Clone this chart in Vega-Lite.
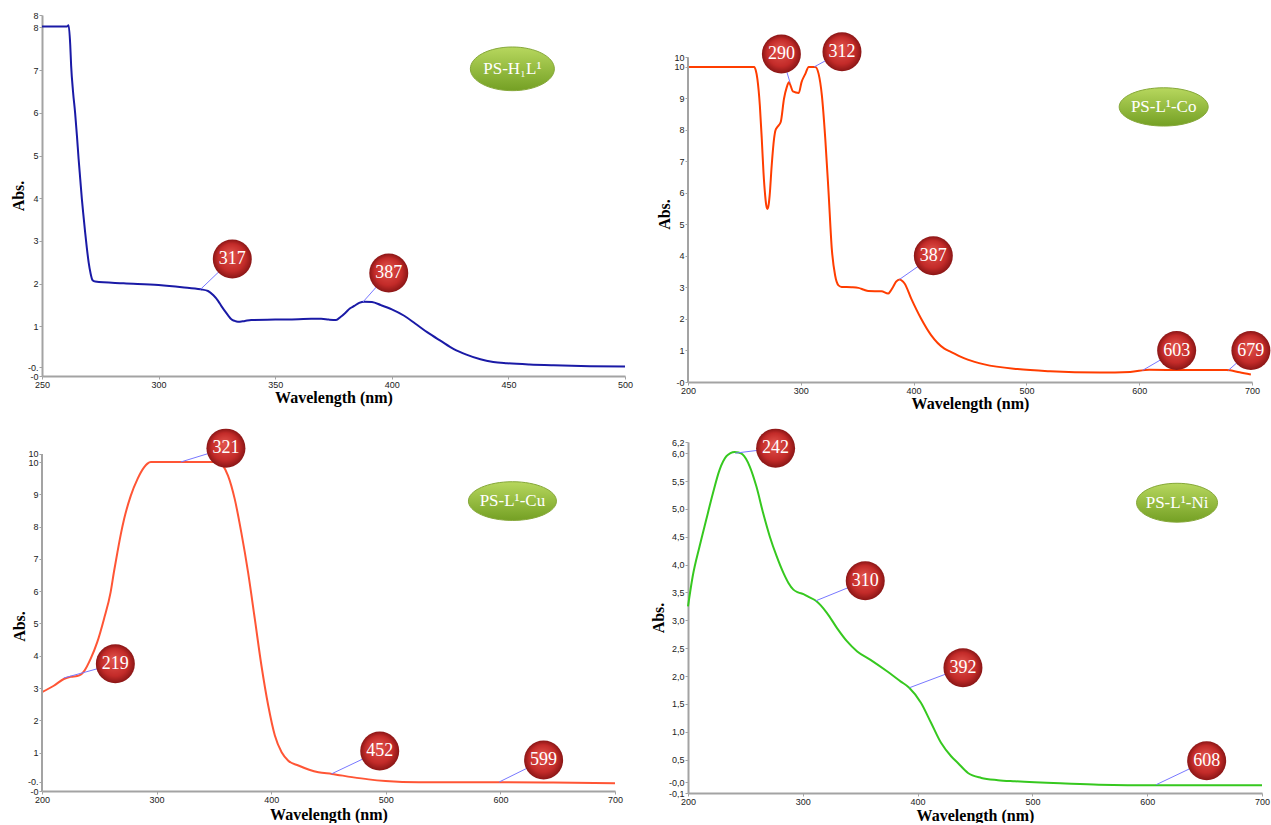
{
  "$schema": "https://vega.github.io/schema/vega-lite/v6.json",
  "background": "white",
  "autosize": {"type": "pad"},
  "padding": {"left": 10, "top": 11, "right": 0, "bottom": 0},
  "columns": 2,
  "spacing": {"row": 60, "column": 63},
  "bounds": "flush",
  "align": "each",
  "config": {
    "view": {"stroke": null},
    "axis": {"grid": false, "domainColor": "#a3a3a3", "domainWidth": 2, "tickColor": "#a3a3a3", "tickSize": 3, "tickWidth": 1,
      "labelFont": "Liberation Sans", "labelFontSize": 9, "labelColor": "#222222", "labelPadding": 1, "labelFlush": false, "labelOverlap": false, "labelBound": false,
      "titleFont": "Liberation Serif", "titleFontSize": 16, "titleFontWeight": "bold", "titleColor": "#000000"}
  },
  "datasets": {
    "p1": [
      {"wl":250,"abs":8.02},{"wl":260.7,"abs":8.02},{"wl":261.4,"abs":8.05},{"wl":262.1,"abs":7.6},{"wl":262.5,"abs":7.1},{"wl":263.3,"abs":6.5},{"wl":264.2,"abs":6.0},{"wl":265,"abs":5.45},{"wl":265.7,"abs":4.92},{"wl":266.4,"abs":4.45},{"wl":267.1,"abs":3.98},{"wl":267.8,"abs":3.58},{"wl":268.5,"abs":3.2},{"wl":269.2,"abs":2.85},{"wl":270,"abs":2.5},{"wl":270.8,"abs":2.25},{"wl":271.7,"abs":2.08},{"wl":272.8,"abs":2.05},{"wl":285,"abs":2.01},{"wl":300,"abs":1.97},{"wl":310,"abs":1.92},{"wl":318,"abs":1.87},{"wl":321.2,"abs":1.83},{"wl":323.5,"abs":1.73},{"wl":325.5,"abs":1.6},{"wl":327,"abs":1.47},{"wl":328.3,"abs":1.37},{"wl":329.8,"abs":1.26},{"wl":331.2,"abs":1.17},{"wl":332.6,"abs":1.13},{"wl":334,"abs":1.11},{"wl":337,"abs":1.13},{"wl":339.7,"abs":1.15},{"wl":350,"abs":1.16},{"wl":360,"abs":1.17},{"wl":365.4,"abs":1.18},{"wl":369.7,"abs":1.18},{"wl":373,"abs":1.16},{"wl":376.1,"abs":1.15},{"wl":378,"abs":1.22},{"wl":380.3,"abs":1.33},{"wl":382,"abs":1.42},{"wl":383.9,"abs":1.48},{"wl":386,"abs":1.55},{"wl":388.2,"abs":1.58},{"wl":391.5,"abs":1.57},{"wl":395.3,"abs":1.5},{"wl":400,"abs":1.4},{"wl":405.3,"abs":1.25},{"wl":410,"abs":1.07},{"wl":415.3,"abs":0.86},{"wl":421,"abs":0.66},{"wl":426.6,"abs":0.47},{"wl":432,"abs":0.34},{"wl":438,"abs":0.23},{"wl":443.5,"abs":0.17},{"wl":449.4,"abs":0.14},{"wl":459,"abs":0.11},{"wl":469.4,"abs":0.09},{"wl":485,"abs":0.07},{"wl":500,"abs":0.06}
    ],
    "a1": [
      {"peak":"317","wl":318,"abs":1.87,"label_wl":331.6,"label_abs":2.58},
      {"peak":"387","wl":387.6,"abs":1.57,"label_wl":398.7,"label_abs":2.25}
    ],
    "t1": [{"name":"PS-H₁L¹","wl":451.7,"abs":7.03}],
    "p2": [
      {"wl":200,"abs":10.0},{"wl":258.7,"abs":10.0},{"wl":260,"abs":9.9},{"wl":261.5,"abs":9.62},{"wl":263.7,"abs":8.77},{"wl":265.4,"abs":7.72},{"wl":266.9,"abs":6.66},{"wl":268.4,"abs":5.92},{"wl":269.4,"abs":5.6},{"wl":270.4,"abs":5.49},{"wl":271.4,"abs":5.6},{"wl":272.4,"abs":5.92},{"wl":274.2,"abs":6.87},{"wl":276.3,"abs":7.72},{"wl":277.5,"abs":7.98},{"wl":279.2,"abs":8.09},{"wl":282.2,"abs":8.25},{"wl":285.1,"abs":8.99},{"wl":287.5,"abs":9.35},{"wl":289.5,"abs":9.51},{"wl":291,"abs":9.4},{"wl":293,"abs":9.22},{"wl":298.2,"abs":9.17},{"wl":300.6,"abs":9.51},{"wl":304,"abs":9.78},{"wl":307,"abs":10.0},{"wl":312.9,"abs":10.0},{"wl":315.8,"abs":9.78},{"wl":318.7,"abs":9.09},{"wl":321.7,"abs":7.72},{"wl":324.6,"abs":6.02},{"wl":327.5,"abs":4.21},{"wl":330.4,"abs":3.38},{"wl":333.4,"abs":3.06},{"wl":336.3,"abs":3.01},{"wl":345,"abs":3.0},{"wl":351,"abs":2.98},{"wl":356,"abs":2.92},{"wl":359.8,"abs":2.88},{"wl":371.5,"abs":2.87},{"wl":377.4,"abs":2.8},{"wl":379.5,"abs":2.88},{"wl":381.8,"abs":3.01},{"wl":384.5,"abs":3.18},{"wl":387.6,"abs":3.25},{"wl":390,"abs":3.2},{"wl":392,"abs":3.12},{"wl":397.9,"abs":2.64},{"wl":406.7,"abs":2.0},{"wl":415.5,"abs":1.48},{"wl":427.3,"abs":1.05},{"wl":433,"abs":0.95},{"wl":442,"abs":0.79},{"wl":448,"abs":0.7},{"wl":462.7,"abs":0.55},{"wl":492,"abs":0.4},{"wl":521,"abs":0.33},{"wl":565,"abs":0.29},{"wl":592,"abs":0.31},{"wl":609,"abs":0.38},{"wl":640,"abs":0.37},{"wl":677,"abs":0.37},{"wl":689,"abs":0.3},{"wl":699,"abs":0.23}
    ],
    "a2": [
      {"peak":"290","wl":290.5,"abs":9.5,"label_wl":282.8,"label_abs":10.41},
      {"peak":"312","wl":311.8,"abs":10.0,"label_wl":336.5,"label_abs":10.48},
      {"peak":"387","wl":387.5,"abs":3.25,"label_wl":417.5,"label_abs":4.0},
      {"peak":"603","wl":603,"abs":0.36,"label_wl":633.2,"label_abs":0.99},
      {"peak":"679","wl":679,"abs":0.36,"label_wl":699,"label_abs":0.99}
    ],
    "t2": [{"name":"PS-L¹-Co","wl":621.7,"abs":8.73}],
    "p3": [
      {"wl":200,"abs":2.87},{"wl":210.3,"abs":3.07},{"wl":219,"abs":3.28},{"wl":225,"abs":3.35},{"wl":230.7,"abs":3.37},{"wl":234,"abs":3.42},{"wl":237.1,"abs":3.54},{"wl":242.4,"abs":3.9},{"wl":248.2,"abs":4.42},{"wl":254.1,"abs":5.14},{"wl":259.9,"abs":5.97},{"wl":262.8,"abs":6.6},{"wl":265.8,"abs":7.2},{"wl":268.7,"abs":7.75},{"wl":271.7,"abs":8.24},{"wl":277.5,"abs":8.96},{"wl":283.3,"abs":9.47},{"wl":289.2,"abs":9.84},{"wl":292,"abs":9.95},{"wl":295,"abs":10.0},{"wl":353.5,"abs":10.0},{"wl":357.9,"abs":9.89},{"wl":362.3,"abs":9.58},{"wl":368.2,"abs":8.85},{"wl":373.9,"abs":7.82},{"wl":379.8,"abs":6.59},{"wl":385.7,"abs":5.14},{"wl":391.5,"abs":3.69},{"wl":397.4,"abs":2.46},{"wl":403.2,"abs":1.53},{"wl":409.1,"abs":1.01},{"wl":414.9,"abs":0.75},{"wl":423.7,"abs":0.6},{"wl":441.2,"abs":0.39},{"wl":452.9,"abs":0.34},{"wl":470.4,"abs":0.24},{"wl":485,"abs":0.17},{"wl":499.7,"abs":0.12},{"wl":528.9,"abs":0.08},{"wl":599,"abs":0.08},{"wl":646,"abs":0.07},{"wl":700,"abs":0.05}
    ],
    "a3": [
      {"peak":"321","wl":321,"abs":10.0,"label_wl":360.5,"label_abs":10.43},
      {"peak":"219","wl":219,"abs":3.31,"label_wl":264,"label_abs":3.75},
      {"peak":"452","wl":452.6,"abs":0.34,"label_wl":494.7,"label_abs":1.05},
      {"peak":"599","wl":599,"abs":0.09,"label_wl":637.7,"label_abs":0.77}
    ],
    "t3": [{"name":"PS-L¹-Cu","wl":610.5,"abs":8.79}],
    "p4": [
      {"wl":200,"abs":3.25},{"wl":204.1,"abs":3.79},{"wl":210,"abs":4.32},{"wl":215.8,"abs":4.8},{"wl":221.7,"abs":5.28},{"wl":227.5,"abs":5.7},{"wl":233.3,"abs":5.94},{"wl":237,"abs":6.0},{"wl":240.6,"abs":6.02},{"wl":244,"abs":6.01},{"wl":247.4,"abs":5.98},{"wl":250.5,"abs":5.9},{"wl":253.8,"abs":5.76},{"wl":259.6,"abs":5.4},{"wl":265.5,"abs":4.92},{"wl":271.3,"abs":4.5},{"wl":277.2,"abs":4.15},{"wl":283.1,"abs":3.85},{"wl":287.5,"abs":3.67},{"wl":291.8,"abs":3.55},{"wl":296,"abs":3.5},{"wl":300.6,"abs":3.47},{"wl":305,"abs":3.42},{"wl":311.4,"abs":3.35},{"wl":321.1,"abs":3.13},{"wl":329.8,"abs":2.86},{"wl":338.6,"abs":2.62},{"wl":347.4,"abs":2.44},{"wl":359,"abs":2.29},{"wl":373.7,"abs":2.08},{"wl":385.4,"abs":1.9},{"wl":392.7,"abs":1.79},{"wl":402.9,"abs":1.52},{"wl":411.7,"abs":1.16},{"wl":420.4,"abs":0.8},{"wl":429.2,"abs":0.56},{"wl":435.1,"abs":0.44},{"wl":443.9,"abs":0.26},{"wl":455.5,"abs":0.17},{"wl":470,"abs":0.13},{"wl":484.8,"abs":0.11},{"wl":528.7,"abs":0.07},{"wl":557.9,"abs":0.05},{"wl":607.6,"abs":0.04},{"wl":700,"abs":0.04}
    ],
    "a4": [
      {"peak":"242","wl":241.2,"abs":6.0,"label_wl":276.3,"label_abs":6.09},
      {"peak":"310","wl":311.4,"abs":3.35,"label_wl":354.4,"label_abs":3.71},
      {"peak":"392","wl":393,"abs":1.79,"label_wl":439.5,"label_abs":2.15},
      {"peak":"608","wl":607.9,"abs":0.05,"label_wl":651.8,"label_abs":0.48}
    ],
    "t4": [{"name":"PS-L¹-Ni","wl":626,"abs":5.11}]
  },
  "concat": [
    {
      "width": 583, "height": 361,
      "layer": [
        {"data": {"name": "p1"}, "mark": {"type": "line", "color": "#1a1aa6", "strokeWidth": 2, "interpolate": "monotone"},
          "encoding": {
            "x": {"field": "wl", "type": "quantitative", "scale": {"domain": [250, 500], "nice": false, "zero": false},
              "axis": {"title": "Wavelength (nm)", "values": [250, 300, 350, 400, 450, 500], "tickCount": 100, "titlePadding": 0}},
            "y": {"field": "abs", "type": "quantitative", "scale": {"domain": [-0.16, 8.29], "nice": false, "zero": false},
              "axis": {"title": "Abs.", "values": [-0.16, 0.05, 1, 2, 3, 4, 5, 6, 7, 8, 8.29], "tickCount": 100, "titlePadding": 1,
                "labelExpr": "datum.value < 0 ? '-0' : datum.value < 0.5 ? '-0.' : format(floor(datum.value), 'd')"}}
          }},
        {"data": {"name": "a1"}, "mark": {"type": "rule", "color": "#7878ff", "strokeWidth": 1},
          "encoding": {"x": {"field": "wl", "type": "quantitative"}, "y": {"field": "abs", "type": "quantitative"},
            "x2": {"field": "label_wl"}, "y2": {"field": "label_abs"}}},
        {"data": {"name": "a1"}, "mark": {"type": "point", "shape": "circle", "size": 1521, "opacity": 1, "strokeWidth": 0, "stroke": null,
            "fill": {"gradient": "radial", "x1": 0.45, "y1": 0.38, "r1": 0, "x2": 0.5, "y2": 0.5, "r2": 0.5,
              "stops": [{"offset": 0, "color": "#e2554e"}, {"offset": 0.7, "color": "#c32b29"}, {"offset": 1, "color": "#8a1616"}]}},
          "encoding": {"x": {"field": "label_wl", "type": "quantitative"}, "y": {"field": "label_abs", "type": "quantitative"}}},
        {"data": {"name": "a1"}, "mark": {"type": "text", "font": "Liberation Serif", "fontSize": 18, "color": "#ffffff", "align": "center", "baseline": "middle"},
          "encoding": {"x": {"field": "label_wl", "type": "quantitative"}, "y": {"field": "label_abs", "type": "quantitative"}, "text": {"field": "peak"}}},
        {"data": {"name": "t1"}, "mark": {"type": "point", "shape": "M-1,0A1,0.52,0,1,1,1,0A1,0.52,0,1,1,-1,0Z", "size": 7056, "opacity": 1, "stroke": "#86a83a", "strokeWidth": 1,
            "fill": {"gradient": "linear", "x1": 0, "y1": 0, "x2": 0, "y2": 1, "stops": [{"offset": 0, "color": "#b7d75e"}, {"offset": 1, "color": "#74a024"}]}},
          "encoding": {"x": {"field": "wl", "type": "quantitative"}, "y": {"field": "abs", "type": "quantitative"}}},
        {"data": {"name": "t1"}, "mark": {"type": "text", "font": "Liberation Serif", "fontSize": 17, "color": "#ffffff", "align": "center", "baseline": "middle"},
          "encoding": {"x": {"field": "wl", "type": "quantitative"}, "y": {"field": "abs", "type": "quantitative"}, "text": {"field": "name"}}}
      ]
    },
    {
      "width": 564, "height": 367,
      "layer": [
        {"data": {"name": "p2"}, "mark": {"type": "line", "color": "#ff3d00", "strokeWidth": 2, "interpolate": "monotone"},
          "encoding": {
            "x": {"field": "wl", "type": "quantitative", "scale": {"domain": [200, 700], "nice": false, "zero": false},
              "axis": {"title": "Wavelength (nm)", "values": [200, 300, 400, 500, 600, 700], "tickCount": 100, "titlePadding": 0}},
            "y": {"field": "abs", "type": "quantitative", "scale": {"domain": [-0.01, 11.65], "nice": false, "zero": false},
              "axis": {"title": "Abs.", "domain": false, "values": [-0.01, 1, 2, 3, 4, 5, 6, 7, 8, 9, 10, 10.3], "tickCount": 100, "titlePadding": 1, "titleY": 199,
                "labelExpr": "datum.value < 0.5 ? '-0' : format(floor(datum.value), 'd')"}}
          }},
        {"data": {"values": [{}]}, "mark": {"type": "rule", "color": "#a3a3a3", "strokeWidth": 2},
          "encoding": {"x": {"datum": 200, "type": "quantitative"}, "y": {"datum": -0.01, "type": "quantitative"}, "y2": {"datum": 10.3}}},
        {"data": {"name": "a2"}, "mark": {"type": "rule", "color": "#7878ff", "strokeWidth": 1},
          "encoding": {"x": {"field": "wl", "type": "quantitative"}, "y": {"field": "abs", "type": "quantitative"},
            "x2": {"field": "label_wl"}, "y2": {"field": "label_abs"}}},
        {"data": {"name": "a2"}, "mark": {"type": "point", "shape": "circle", "size": 1521, "opacity": 1, "strokeWidth": 0, "stroke": null,
            "fill": {"gradient": "radial", "x1": 0.45, "y1": 0.38, "r1": 0, "x2": 0.5, "y2": 0.5, "r2": 0.5,
              "stops": [{"offset": 0, "color": "#e2554e"}, {"offset": 0.7, "color": "#c32b29"}, {"offset": 1, "color": "#8a1616"}]}},
          "encoding": {"x": {"field": "label_wl", "type": "quantitative"}, "y": {"field": "label_abs", "type": "quantitative"}}},
        {"data": {"name": "a2"}, "mark": {"type": "text", "font": "Liberation Serif", "fontSize": 18, "color": "#ffffff", "align": "center", "baseline": "middle"},
          "encoding": {"x": {"field": "label_wl", "type": "quantitative"}, "y": {"field": "label_abs", "type": "quantitative"}, "text": {"field": "peak"}}},
        {"data": {"name": "t2"}, "mark": {"type": "point", "shape": "M-1,0A1,0.43,0,1,1,1,0A1,0.43,0,1,1,-1,0Z", "size": 7921, "opacity": 1, "stroke": "#86a83a", "strokeWidth": 1,
            "fill": {"gradient": "linear", "x1": 0, "y1": 0, "x2": 0, "y2": 1, "stops": [{"offset": 0, "color": "#b7d75e"}, {"offset": 1, "color": "#74a024"}]}},
          "encoding": {"x": {"field": "wl", "type": "quantitative"}, "y": {"field": "abs", "type": "quantitative"}}},
        {"data": {"name": "t2"}, "mark": {"type": "text", "font": "Liberation Serif", "fontSize": 17, "color": "#ffffff", "align": "center", "baseline": "middle"},
          "encoding": {"x": {"field": "wl", "type": "quantitative"}, "y": {"field": "abs", "type": "quantitative"}, "text": {"field": "name"}}}
      ]
    },
    {
      "width": 573, "height": 349,
      "layer": [
        {"data": {"name": "p3"}, "mark": {"type": "line", "color": "#ff5535", "strokeWidth": 2, "interpolate": "monotone"},
          "encoding": {
            "x": {"field": "wl", "type": "quantitative", "scale": {"domain": [200, 700], "nice": false, "zero": false},
              "axis": {"title": "Wavelength (nm)", "values": [200, 300, 400, 500, 600, 700], "tickCount": 100, "titlePadding": 2}},
            "y": {"field": "abs", "type": "quantitative", "scale": {"domain": [-0.19, 10.62], "nice": false, "zero": false},
              "axis": {"title": "Abs.", "domain": false, "values": [-0.19, 0.1, 1, 2, 3, 4, 5, 6, 7, 8, 9, 10, 10.25], "tickCount": 100, "titlePadding": 0, "titleY": 184,
                "labelExpr": "datum.value < 0 ? '-0' : datum.value < 0.5 ? '-0.' : format(floor(datum.value), 'd')"}}
          }},
        {"data": {"values": [{}]}, "mark": {"type": "rule", "color": "#a3a3a3", "strokeWidth": 2},
          "encoding": {"x": {"datum": 200, "type": "quantitative"}, "y": {"datum": -0.19, "type": "quantitative"}, "y2": {"datum": 10.25}}},
        {"data": {"name": "a3"}, "mark": {"type": "rule", "color": "#7878ff", "strokeWidth": 1},
          "encoding": {"x": {"field": "wl", "type": "quantitative"}, "y": {"field": "abs", "type": "quantitative"},
            "x2": {"field": "label_wl"}, "y2": {"field": "label_abs"}}},
        {"data": {"name": "a3"}, "mark": {"type": "point", "shape": "circle", "size": 1521, "opacity": 1, "strokeWidth": 0, "stroke": null,
            "fill": {"gradient": "radial", "x1": 0.45, "y1": 0.38, "r1": 0, "x2": 0.5, "y2": 0.5, "r2": 0.5,
              "stops": [{"offset": 0, "color": "#e2554e"}, {"offset": 0.7, "color": "#c32b29"}, {"offset": 1, "color": "#8a1616"}]}},
          "encoding": {"x": {"field": "label_wl", "type": "quantitative"}, "y": {"field": "label_abs", "type": "quantitative"}}},
        {"data": {"name": "a3"}, "mark": {"type": "text", "font": "Liberation Serif", "fontSize": 18, "color": "#ffffff", "align": "center", "baseline": "middle"},
          "encoding": {"x": {"field": "label_wl", "type": "quantitative"}, "y": {"field": "label_abs", "type": "quantitative"}, "text": {"field": "peak"}}},
        {"data": {"name": "t3"}, "mark": {"type": "point", "shape": "M-1,0A1,0.44,0,1,1,1,0A1,0.44,0,1,1,-1,0Z", "size": 7744, "opacity": 1, "stroke": "#86a83a", "strokeWidth": 1,
            "fill": {"gradient": "linear", "x1": 0, "y1": 0, "x2": 0, "y2": 1, "stops": [{"offset": 0, "color": "#b7d75e"}, {"offset": 1, "color": "#74a024"}]}},
          "encoding": {"x": {"field": "wl", "type": "quantitative"}, "y": {"field": "abs", "type": "quantitative"}}},
        {"data": {"name": "t3"}, "mark": {"type": "text", "font": "Liberation Serif", "fontSize": 17, "color": "#ffffff", "align": "center", "baseline": "middle"},
          "encoding": {"x": {"field": "wl", "type": "quantitative"}, "y": {"field": "abs", "type": "quantitative"}, "text": {"field": "name"}}}
      ]
    },
    {
      "width": 574, "height": 351,
      "layer": [
        {"data": {"name": "p4"}, "mark": {"type": "line", "color": "#36c81f", "strokeWidth": 2, "interpolate": "monotone"},
          "encoding": {
            "x": {"field": "wl", "type": "quantitative", "scale": {"domain": [200, 700], "nice": false, "zero": false},
              "axis": {"title": "Wavelength (nm)", "values": [200, 300, 400, 500, 600, 700], "tickCount": 100, "titlePadding": 1}},
            "y": {"field": "abs", "type": "quantitative", "scale": {"domain": [-0.1, 6.2], "nice": false, "zero": false},
              "axis": {"title": "Abs.", "values": [-0.1, 0.09, 0.5, 1, 1.5, 2, 2.5, 3, 3.5, 4, 4.5, 5, 5.5, 6, 6.2], "tickCount": 100, "titlePadding": 2,
                "labelExpr": "datum.value < 0 ? '-0,1' : datum.value < 0.2 ? '-0,0' : replace(format(datum.value, '.1f'), '.', ',')"}}
          }},
        {"data": {"name": "a4"}, "mark": {"type": "rule", "color": "#7878ff", "strokeWidth": 1},
          "encoding": {"x": {"field": "wl", "type": "quantitative"}, "y": {"field": "abs", "type": "quantitative"},
            "x2": {"field": "label_wl"}, "y2": {"field": "label_abs"}}},
        {"data": {"name": "a4"}, "mark": {"type": "point", "shape": "circle", "size": 1521, "opacity": 1, "strokeWidth": 0, "stroke": null,
            "fill": {"gradient": "radial", "x1": 0.45, "y1": 0.38, "r1": 0, "x2": 0.5, "y2": 0.5, "r2": 0.5,
              "stops": [{"offset": 0, "color": "#e2554e"}, {"offset": 0.7, "color": "#c32b29"}, {"offset": 1, "color": "#8a1616"}]}},
          "encoding": {"x": {"field": "label_wl", "type": "quantitative"}, "y": {"field": "label_abs", "type": "quantitative"}}},
        {"data": {"name": "a4"}, "mark": {"type": "text", "font": "Liberation Serif", "fontSize": 18, "color": "#ffffff", "align": "center", "baseline": "middle"},
          "encoding": {"x": {"field": "label_wl", "type": "quantitative"}, "y": {"field": "label_abs", "type": "quantitative"}, "text": {"field": "peak"}}},
        {"data": {"name": "t4"}, "mark": {"type": "point", "shape": "M-1,0A1,0.48,0,1,1,1,0A1,0.48,0,1,1,-1,0Z", "size": 6561, "opacity": 1, "stroke": "#86a83a", "strokeWidth": 1,
            "fill": {"gradient": "linear", "x1": 0, "y1": 0, "x2": 0, "y2": 1, "stops": [{"offset": 0, "color": "#b7d75e"}, {"offset": 1, "color": "#74a024"}]}},
          "encoding": {"x": {"field": "wl", "type": "quantitative"}, "y": {"field": "abs", "type": "quantitative"}}},
        {"data": {"name": "t4"}, "mark": {"type": "text", "font": "Liberation Serif", "fontSize": 17, "color": "#ffffff", "align": "center", "baseline": "middle"},
          "encoding": {"x": {"field": "wl", "type": "quantitative"}, "y": {"field": "abs", "type": "quantitative"}, "text": {"field": "name"}}}
      ]
    }
  ]
}
